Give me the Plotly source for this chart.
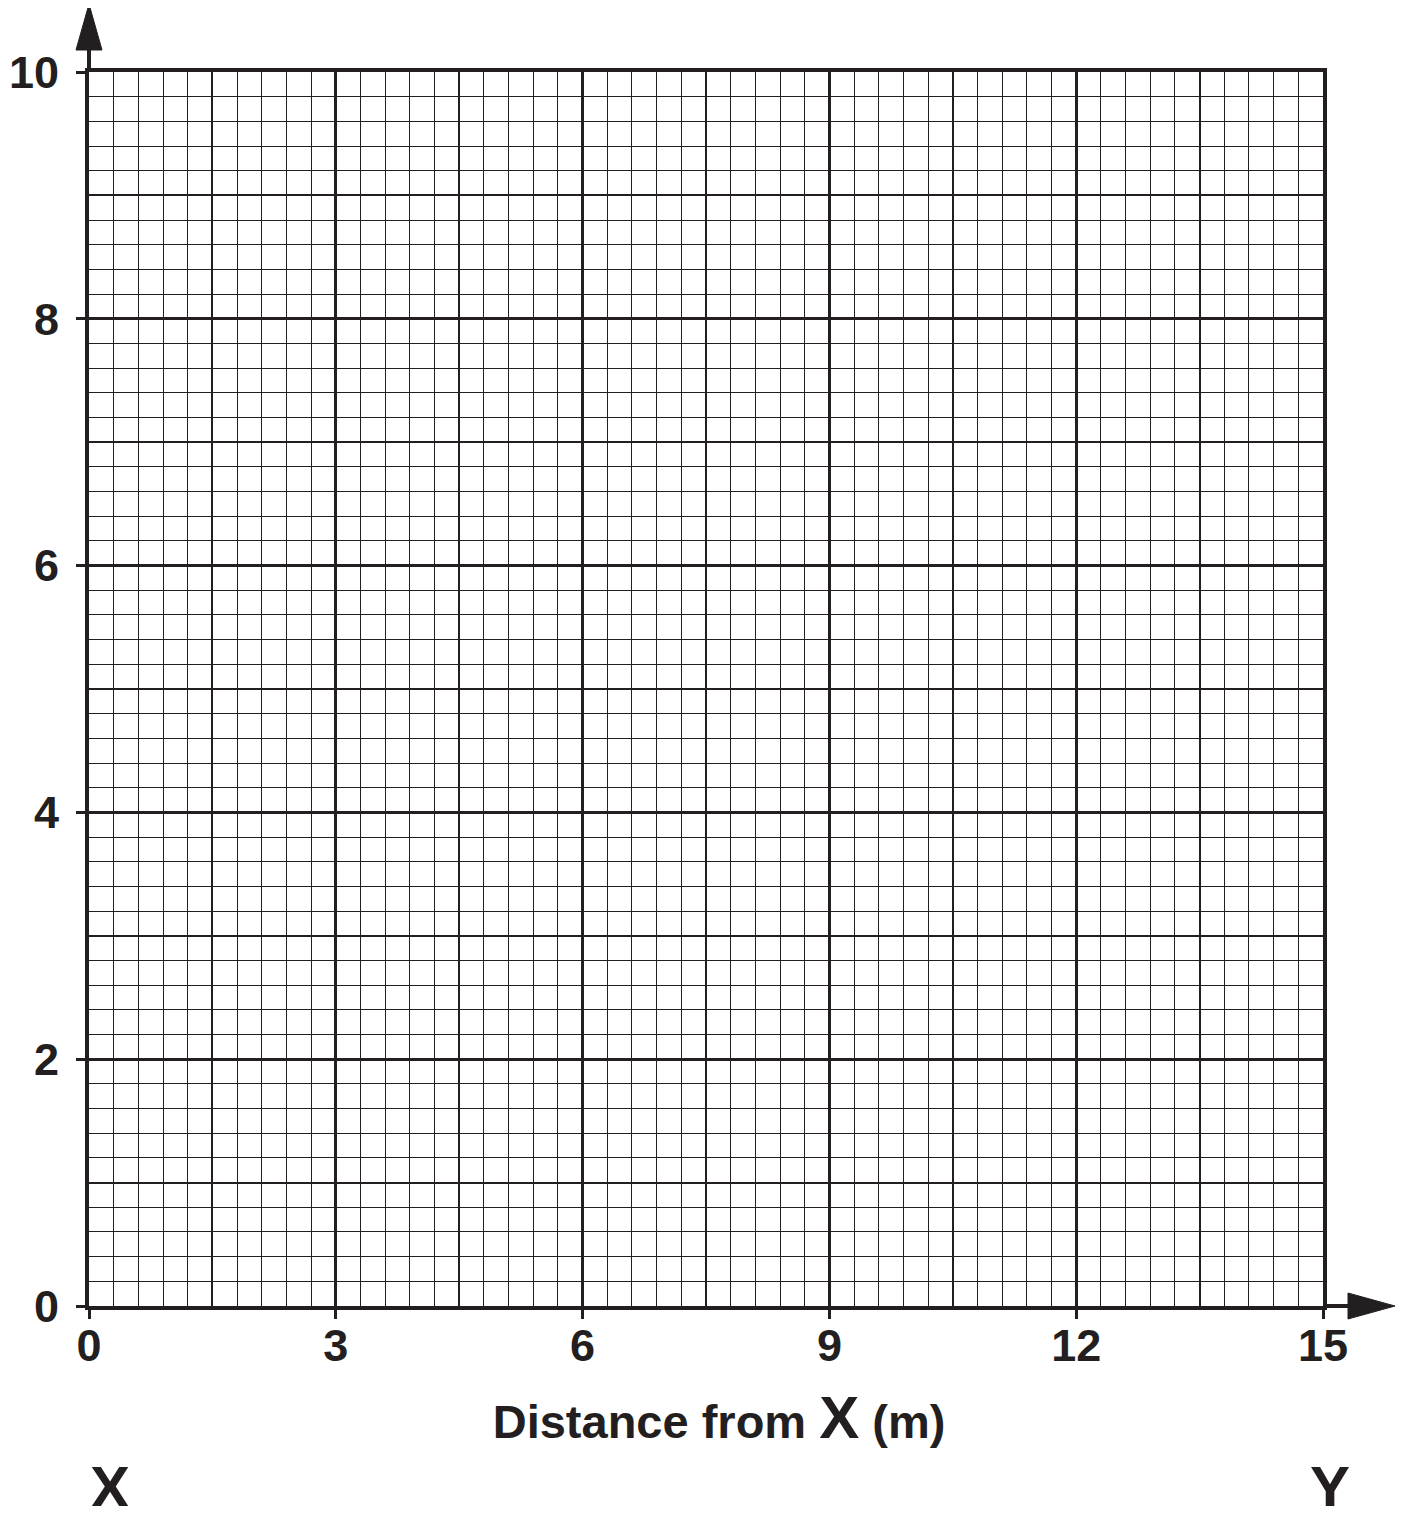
import plotly.graph_objects as go

# ---- data ----
x_range = [0, 15]
y_range = [0, 10]
x_major_ticks = [0, 3, 6, 9, 12, 15]
y_major_ticks = [0, 2, 4, 6, 8, 10]
x_medium_step = 1.5
y_medium_step = 1
x_minor_step = 0.3
y_minor_step = 0.2
x_title_parts = ["Distance from ", "X", " (m)"]
end_labels = ["X", "Y"]

INK = "#231f20"
FONT = "Liberation Sans, Arial, Helvetica, sans-serif"

OFF = 8  # default page body margin
W, H = 1405 - 2 * OFF, 1514 - 2 * OFF
L, T = 89 - OFF, 72 - OFF
R = W - (1323 - OFF)
B = H - (1306 - OFF)
pw, ph = W - L - R, H - T - B

fig = go.Figure()
fig.add_trace(go.Scatter(x=x_range, y=y_range, mode="markers",
                         marker=dict(opacity=0), hoverinfo="skip", showlegend=False))
fig.add_trace(go.Scatter(x=x_range, y=y_range, mode="markers", xaxis="x2", yaxis="y2",
                         marker=dict(opacity=0), hoverinfo="skip", showlegend=False))

tickfont = dict(family=FONT, size=45, color=INK, weight="bold")

fig.update_layout(
    width=W, height=H, autosize=False,
    margin=dict(l=L, r=R, t=T, b=B, pad=0),
    paper_bgcolor="white", plot_bgcolor="white",
    xaxis=dict(
        range=x_range, tickvals=x_major_ticks, ticktext=[str(v) for v in x_major_ticks],
        showgrid=True, gridcolor=INK, gridwidth=3,
        showline=True, linecolor=INK, linewidth=4, mirror=True,
        ticks="outside", ticklen=9, tickwidth=3, tickcolor=INK,
        tickfont=tickfont, ticklabelstandoff=-12, zeroline=False, fixedrange=True,
        minor=dict(dtick=x_minor_step, tick0=0, showgrid=True, gridcolor=INK, gridwidth=1.2, ticks=""),
        title=dict(text="&nbsp;&nbsp;" + x_title_parts[0] + "<span style='font-size:60px'>" + x_title_parts[1] + "</span>" + x_title_parts[2],
                   font=dict(family=FONT, size=47, color=INK, weight="bold"), standoff=36),
        automargin=False,
    ),
    yaxis=dict(
        range=y_range, tickvals=y_major_ticks, ticktext=[str(v) for v in y_major_ticks],
        showgrid=True, gridcolor=INK, gridwidth=3,
        showline=True, linecolor=INK, linewidth=4, mirror=True,
        ticks="outside", ticklen=9, tickwidth=3, tickcolor=INK,
        tickfont=tickfont, ticklabelstandoff=8, zeroline=False, fixedrange=True,
        minor=dict(dtick=y_minor_step, tick0=0, showgrid=True, gridcolor=INK, gridwidth=1.2, ticks=""),
        automargin=False,
    ),
    xaxis2=dict(
        range=x_range, overlaying="x", anchor="y", dtick=x_medium_step, tick0=0,
        showgrid=True, gridcolor=INK, gridwidth=2, showticklabels=False, ticks="",
        showline=False, zeroline=False, fixedrange=True,
    ),
    yaxis2=dict(
        range=y_range, overlaying="y", anchor="x", dtick=y_medium_step, tick0=0,
        showgrid=True, gridcolor=INK, gridwidth=2, showticklabels=False, ticks="",
        showline=False, zeroline=False, fixedrange=True,
    ),
)

# axis arrows (pixel-sized, anchored at the axis ends: x=0/top and x=15/bottom)
fig.add_shape(type="line", xref="paper", yref="paper", xsizemode="pixel", ysizemode="pixel",
              xanchor=0, yanchor=1, x0=0, x1=0, y0=0, y1=24,
              line=dict(color=INK, width=4))
fig.add_shape(type="path", xref="paper", yref="paper", xsizemode="pixel", ysizemode="pixel",
              xanchor=0, yanchor=1, path="M -13,22 L 13,22 L 0,68 Z",
              fillcolor=INK, line=dict(color=INK, width=1))
fig.add_shape(type="line", xref="paper", yref="paper", xsizemode="pixel", ysizemode="pixel",
              xanchor=1, yanchor=0, x0=0, x1=27, y0=0, y1=0,
              line=dict(color=INK, width=4))
fig.add_shape(type="path", xref="paper", yref="paper", xsizemode="pixel", ysizemode="pixel",
              xanchor=1, yanchor=0, path="M 25,-13 L 25,13 L 72,0 Z",
              fillcolor=INK, line=dict(color=INK, width=1))

# end labels X and Y
for lab, px in zip(end_labels, [110, 1330]):
    fig.add_annotation(text="<b>" + lab + "</b>", xref="paper", yref="paper",
                       x=(px - 89) / pw, y=(1306 - 1487) / ph,
                       xanchor="center", yanchor="middle", showarrow=False,
                       font=dict(family=FONT, size=60, color=INK))

fig.write_html("out.html")
